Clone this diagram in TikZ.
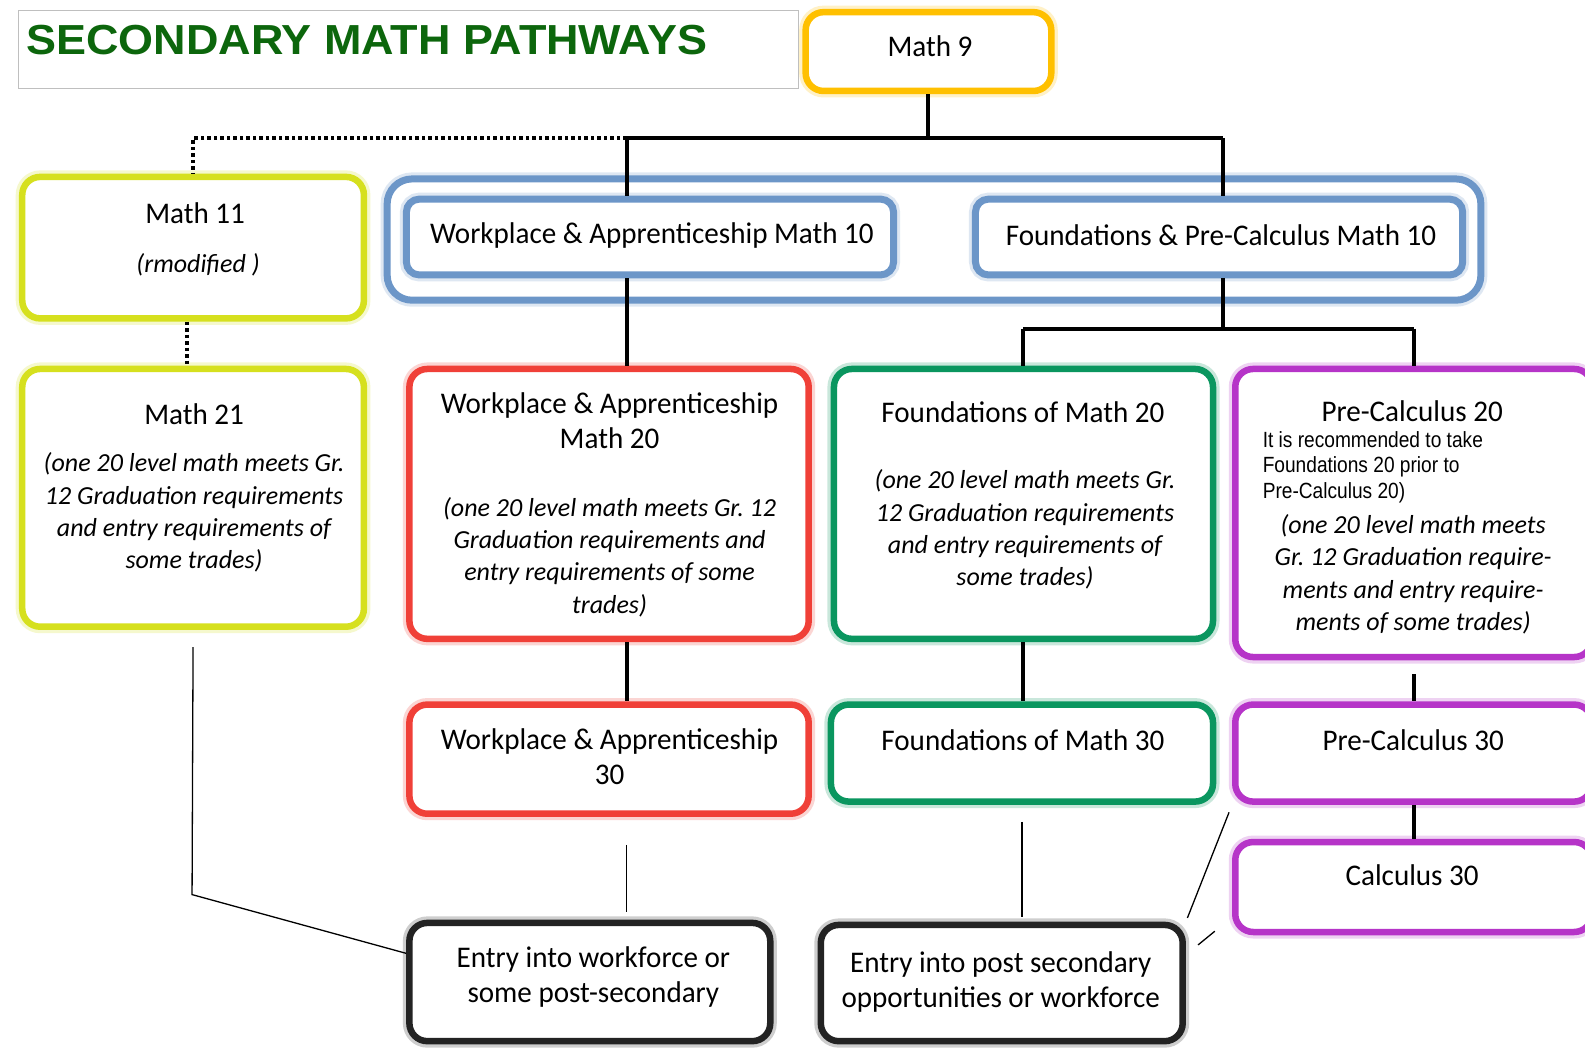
\documentclass[tikz,border=0pt]{standalone}
\usepackage{fontspec}
\setmainfont{Carlito}[FakeStretch=0.97]
\newfontfamily\italfont{Carlito}[FakeStretch=1.0]
\newfontfamily\titlefont{Liberation Sans}[FakeStretch=1.07]
\newfontfamily\narrowfont{Liberation Sans}[FakeStretch=0.87]
\usetikzlibrary{calc,fit}
\frenchspacing
\definecolor{ylw}{RGB}{255,192,0}
\definecolor{lime}{RGB}{214,224,30}
\definecolor{bluec}{RGB}{108,150,200}
\definecolor{redc}{RGB}{240,64,56}
\definecolor{greenc}{RGB}{10,150,95}
\definecolor{purc}{RGB}{182,52,200}
\definecolor{darkc}{RGB}{35,35,35}
\definecolor{titlegreen}{RGB}{12,102,12}
\begin{document}
\begin{tikzpicture}[x=1.011pt,y=-1.011pt,
  box/.style={draw=#1, fill=white, rounded corners=18, line width=6.5, inner sep=0pt,
    preaction={draw=#1, line width=13, opacity=0.22}},
  sbox/.style={box=#1, rounded corners=13},
  main/.style={font=\fontsize{30}{35}\selectfont, align=center, inner sep=0pt},
  ital/.style={font=\italfont\fontsize{26}{32.3}\selectfont\itshape, align=center, inner sep=0pt},
  small/.style={font=\narrowfont\fontsize{22}{25.5}\selectfont, align=left, inner sep=0pt, anchor=west},
  conn/.style={draw=black, line width=4},
  dots/.style={draw=black, line width=4, dash pattern=on 3.5 off 3},
  thinl/.style={draw=black, line width=1.3}]
\useasboundingbox (0,0) rectangle (1568,1036);
\fill[white] (0,0) rectangle (1568,1036);

% title
\node[draw=black!25, line width=1, inner sep=0pt, fit={(18,10) (790,88)}] (tbox) {};
\node[anchor=west, inner sep=0pt, text=titlegreen, font=\titlefont\bfseries\fontsize{42}{46}\selectfont] (title) at (26,40) {SECONDARY MATH PATHWAYS};

% Math 9
\node[box=ylw, fit={(797,12) (1040,90)}] (m9) {};
\node[main] (m9t) at (920,46) {Math 9};

% blue group
\node[box=bluec, rounded corners=25, line width=7, fit={(383,177) (1465,297)}] (grp) {};
\node[sbox=bluec, line width=7, fit={(402,197) (884,272)}] (wa10) {};
\node[main] (wa10t) at (645,233) {Workplace \& Apprenticeship Math 10};
\node[sbox=bluec, line width=7, fit={(965,197) (1447,272)}] (fp10) {};
\node[main] (fp10t) at (1208,233) {Foundations \& Pre-Calculus Math 10};

% Math 11 / 21
\node[box=lime, fit={(22,175) (360,315)}] (m11) {};
\node[main] (m11t) at (193,211) {Math 11};
\node[ital] (m11i) at (196,262) {(rmodified )};
\node[box=lime, fit={(22,365) (360,620)}] (m21) {};
\node[main] (m21t) at (192,410) {Math 21};
\node[ital] (m21i) at (192,507) {(one 20 level math meets Gr.\\12 Graduation requirements\\and entry requirements of\\some trades)};

% 20 level
\node[box=redc, fit={(405,365) (800,632)}] (wa20) {};
\node[main] (wa20t) at (603,416) {Workplace \& Apprenticeship\\Math 20};
\node[ital] (wa20i) at (603,551) {(one 20 level math meets Gr. 12\\Graduation requirements and\\entry requirements of some\\trades)};

\node[box=greenc, fit={(825,365) (1200,632)}] (f20) {};
\node[main] (f20t) at (1012,408) {Foundations of Math 20};
\node[ital] (f20i) at (1014,524) {(one 20 level math meets Gr.\\12 Graduation requirements\\and entry requirements of\\some trades)};

\node[box=purc, fit={(1222,365) (1575,650)}] (pc20) {};
\node[main] (pc20t) at (1397,407) {Pre-Calculus 20};
\node[small] (pc20s) at (1249,462) {It is recommended to take\\Foundations 20 prior to\\Pre-Calculus 20)};
\node[ital] (pc20i) at (1398,568) {(one 20 level math meets\\Gr. 12 Graduation require-\\ments and entry require-\\ments of some trades)};

% 30 level
\node[box=redc, fit={(405,697) (800,805)}] (wa30) {};
\node[main] (wa30t) at (603,749) {Workplace \& Apprenticeship\\30};
\node[box=greenc, fit={(822,697) (1200,793)}] (f30) {};
\node[main] (f30t) at (1012,732) {Foundations of Math 30};
\node[box=purc, fit={(1222,697) (1575,793)}] (pc30) {};
\node[main] (pc30t) at (1398,732) {Pre-Calculus 30};
\node[box=purc, fit={(1222,833) (1575,922)}] (c30) {};
\node[main] (c30t) at (1397,866) {Calculus 30};

% entry boxes
\node[box=darkc, fit={(405,913) (762,1030)}] (e1) {};
\node[main] (e1t) at (587,967) {Entry into workforce or\\some post-secondary};
\node[box=darkc, fit={(812,915) (1170,1030)}] (e2) {};
\node[main] (e2t) at (990,971) {Entry into post secondary\\opportunities or workforce};

% connectors
\coordinate (j1) at (918,137);
\coordinate (jl) at (620,137);
\coordinate (jr) at (1210,137);
\coordinate (j2) at (1210,325);
\coordinate (d1) at (185,0);
\coordinate (c1) at (190,885);
\draw[conn] (m9.south -| j1) -- (j1);
\draw[conn] (jl) -- (jr);
\draw[conn] (jl) -- (jl |- wa10.north);
\draw[conn] (jr) -- (jr |- fp10.north);
\draw[dots] (jl) -| (m11.north);
\draw[dots] (d1 |- m11.south) -- (d1 |- m21.north);
\draw[conn] (j2 |- fp10.south) -- (j2);
\draw[conn] (f20.north |- j2) -- (pc20.north |- j2);
\draw[conn] (f20.north |- j2) -- (f20.north);
\draw[conn] (pc20.north |- j2) -- (pc20.north);
\draw[conn] (jl |- wa10.south) -- (jl |- wa20.north);
\draw[conn] (jl |- wa20.south) -- (jl |- wa30.north);
\draw[conn] (f20.south) -- (f20.south |- f30.north);
\draw[conn, shorten <=14pt] (pc20.south) -- (pc30.north);
\draw[conn] (pc30.south) -- (c30.north);

\draw[thinl] ($(m21.south)+(0,17)$) -- (c1) -- ($(e1.north west)!0.27!(e1.south west)$);
\draw[thinl, shorten <=28pt, shorten >=8pt] (jl |- wa30.south) -- (jl |- e1.north);
\draw[thinl, shorten <=17pt, shorten >=5pt] (f30.south) -- (f30.south |- e2.north);
\draw[thinl, shorten <=8pt, shorten >=4pt] (pc30.south west) -- (e2.north east);
\draw[thinl] ($(c30.south west)+(-17,-4)$) -- ($(e2.north east)+(12,23)$);
\end{tikzpicture}
\end{document}
